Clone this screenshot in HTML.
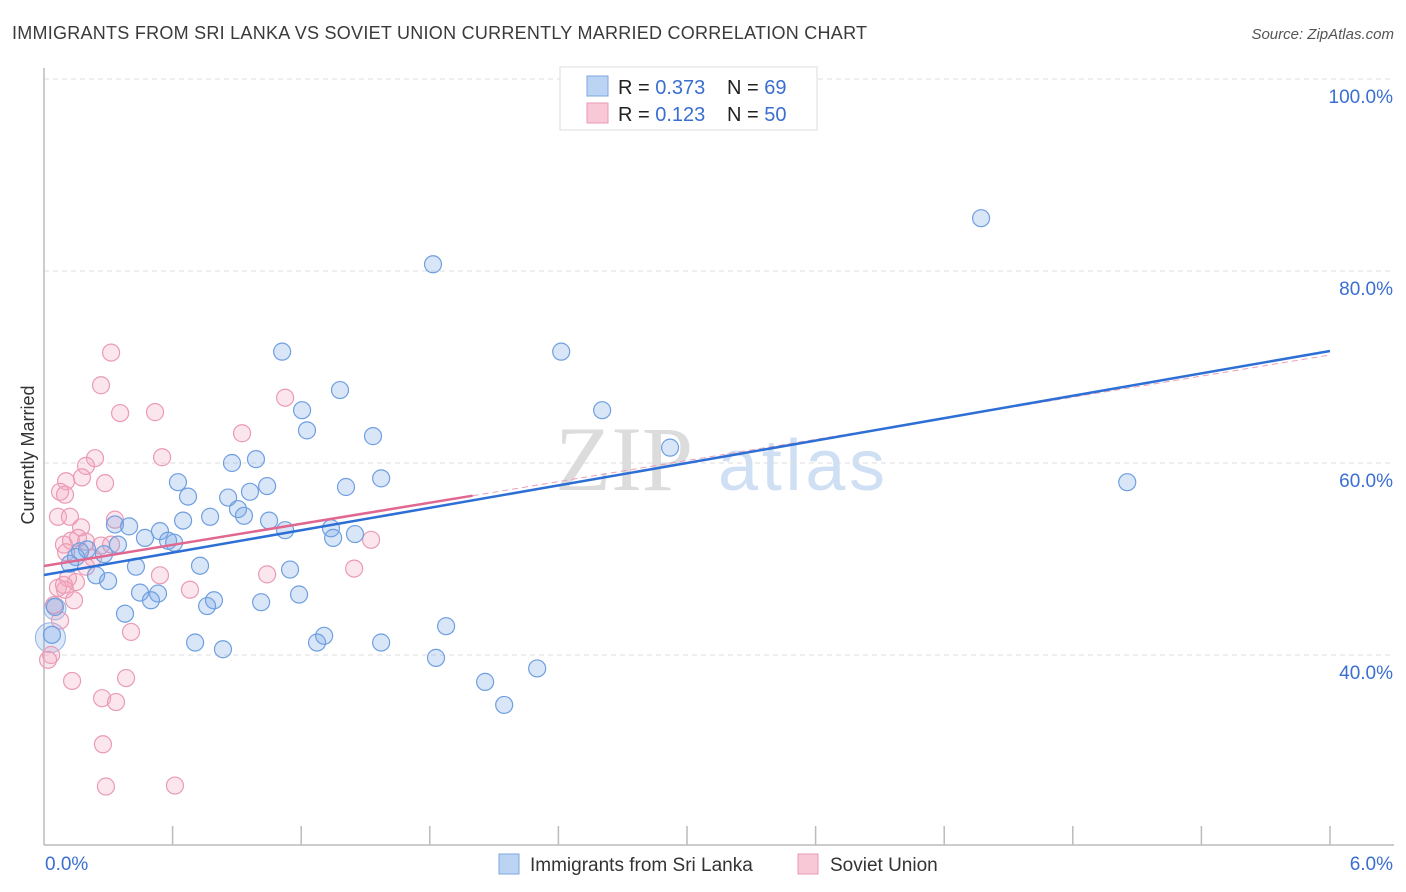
<!DOCTYPE html>
<html><head><meta charset="utf-8"><style>
body{margin:0;background:#fff;font-family:"Liberation Sans",sans-serif;}
#wrap{position:relative;width:1406px;height:892px;overflow:hidden;}
</style></head><body>
<div id="wrap">
<svg id="svg" width="1406" height="892" xmlns="http://www.w3.org/2000/svg">
<text x="12" y="39" font-size="18" fill="#3a3a3a" textLength="855">IMMIGRANTS FROM SRI LANKA VS SOVIET UNION CURRENTLY MARRIED CORRELATION CHART</text>
<text x="1394" y="39" font-size="15" fill="#555" font-style="italic" text-anchor="end">Source: ZipAtlas.com</text>
<text transform="translate(34,455) rotate(-90)" font-size="18" fill="#333" text-anchor="middle">Currently Married</text>
<g>
<text x="555" y="490" font-size="92" font-family="Liberation Serif,serif" fill="#dcdcdc">ZIP</text>
<text x="718" y="490" font-size="72" fill="#d0e0f4" textLength="167">atlas</text>
</g>
<g id="grid"></g><g id="axes"></g><g id="pts"></g><g id="lines"></g>
<g>
<rect x="560" y="67" width="257" height="63" fill="#fff" stroke="#ddd"/>
<rect x="587" y="76" width="21" height="20" fill="#bcd4f4" stroke="#7ea6e0"/>
<rect x="587" y="103" width="21" height="20" fill="#f8c8d6" stroke="#e99ab3"/>
<text x="618" y="94" font-size="20" fill="#222">R = <tspan fill="#3a6fd0">0.373</tspan></text>
<text x="727" y="94" font-size="20" fill="#222">N = <tspan fill="#3a6fd0"> 69</tspan></text>
<text x="618" y="121" font-size="20" fill="#222">R = <tspan fill="#3a6fd0"> 0.123</tspan></text>
<text x="727" y="121" font-size="20" fill="#222">N = <tspan fill="#3a6fd0">50</tspan></text>
</g>
<g>
<rect x="499" y="854" width="20" height="20" fill="#bcd4f4" stroke="#7ea6e0"/>
<text x="530" y="871" font-size="19" fill="#333">Immigrants from Sri Lanka</text>
<rect x="798" y="854" width="20" height="20" fill="#f8c8d6" stroke="#e99ab3"/>
<text x="830" y="871" font-size="19" fill="#333">Soviet Union</text>
</g>
</svg>
</div>
<script>
const blueX=[1.815,4.372,1.111,2.413,1.381,2.604,1.204,1.227,1.535,2.921,5.054,0.989,0.877,0.625,0.672,1.409,1.573,1.041,0.961,0.859,0.905,0.933,0.775,0.649,0.397,0.541,0.331,0.471,0.579,0.607,1.050,1.125,1.339,1.349,1.451,0.345,0.201,0.168,0.280,0.149,0.121,0.429,0.728,1.148,0.243,0.299,0.448,0.532,0.499,0.793,0.761,1.013,1.190,0.378,1.876,1.307,1.274,0.705,0.835,1.573,1.829,2.301,2.058,2.147,0.051,0.037];
const blueY=[80.7,85.5,71.6,71.6,67.6,65.5,65.5,63.4,62.8,61.6,58.0,60.4,60.0,58.0,56.5,57.5,58.4,57.6,57.0,56.4,55.2,54.5,54.4,54.0,53.4,52.9,53.6,52.2,51.9,51.7,54.0,53.0,53.2,52.2,52.6,51.5,51.0,50.8,50.5,50.2,49.5,49.2,49.3,48.9,48.3,47.7,46.5,46.4,45.7,45.7,45.1,45.5,46.3,44.3,43.0,42.0,41.3,41.3,40.6,41.3,39.7,38.6,37.2,34.8,45.0,42.1];
const pinkX=[0.313,0.266,0.355,0.518,0.924,1.125,0.551,0.238,0.196,0.177,0.285,0.103,0.075,0.098,0.065,0.121,0.173,0.331,0.093,0.126,0.159,0.196,0.229,0.266,0.313,0.103,0.149,0.112,0.541,1.041,1.447,1.526,0.681,0.098,0.065,0.140,0.047,0.406,0.075,0.033,0.019,0.131,0.383,0.271,0.336,0.275,0.289,0.611,0.093,0.196];
const pinkY=[71.5,68.1,65.2,65.3,63.1,66.8,60.6,60.5,59.7,58.5,57.9,58.1,57.0,56.7,54.4,54.4,53.3,54.1,51.5,51.9,52.2,51.8,50.1,51.4,51.5,50.7,47.6,48.0,48.3,48.4,49.0,52.0,46.8,46.8,47.0,45.7,45.2,42.4,43.6,40.0,39.5,37.3,37.6,35.5,35.1,30.7,26.3,26.4,47.3,49.2];
const yTicks=[40,60,80,100];
const yTickLabels=["40.0%","60.0%","80.0%","100.0%"];
const xTickLabels=["0.0%","6.0%"];
const blueTrend=[48.33,71.67];
const pinkTrend=[49.27,71.25];
const pinkSolidEnd=2.0;
const bigBlue=[[0.051,44.8,11],[0.03,41.8,15]];

const NS="http://www.w3.org/2000/svg";
const X0=44,X1=1330,Y0=845;
const xs=v=>X0+(X1-X0)*v/6;
const ys=v=>79+(100-v)*9.6;
function mk(t,a,p){const e=document.createElementNS(NS,t);for(const k in a)e.setAttribute(k,a[k]);p.appendChild(e);return e;}
const grid=document.getElementById('grid'),axes=document.getElementById('axes'),pts=document.getElementById('pts'),lines=document.getElementById('lines');
yTicks.forEach((v,i)=>{
 const l=mk('line',{x1:X0,x2:1394,y1:ys(v),y2:ys(v),stroke:'#dcdcdc','stroke-dasharray':'5,4'},grid);
 
 
 const t=mk('text',{x:1393,y:ys(v)+24,'font-size':19,fill:'#3a6fd0','text-anchor':'end'},axes);
 t.textContent=yTickLabels[i];
 
 
});
let a=mk('line',{x1:X0,x2:X0,y1:68,y2:Y0,stroke:'#bbb','stroke-width':1.5},axes);


a=mk('line',{x1:X0,x2:1394,y1:Y0,y2:Y0,stroke:'#bbb','stroke-width':1.5},axes);


for(let i=1;i<=10;i++){
 const x=xs(i*0.6);
 const t=mk('line',{x1:x,x2:x,y1:826,y2:Y0,stroke:'#bbb','stroke-width':1.5},axes);
 
 
}
[[0,'start',45],[6,'end',1393]].forEach((d,i)=>{
 const t=mk('text',{x:d[2],y:870,'font-size':19,fill:'#3a6fd0','text-anchor':d[1]},axes);
 t.textContent=xTickLabels[i];
 
 
});
bigBlue.forEach(b=>{
 const c=mk('circle',{cx:xs(b[0]),cy:ys(b[1]),r:b[2],fill:'rgba(120,165,230,0.25)',stroke:'#8fb3e6','stroke-width':1},pts);
 
 
});
pinkX.forEach((v,i)=>{
 const c=mk('circle',{cx:xs(v),cy:ys(pinkY[i]),r:8.5,fill:'rgba(245,165,190,0.28)',stroke:'#ea9bb4','stroke-width':1.2},pts);
 
 
});
blueX.forEach((v,i)=>{
 const c=mk('circle',{cx:xs(v),cy:ys(blueY[i]),r:8.5,fill:'rgba(120,165,230,0.28)',stroke:'#6f9fe0','stroke-width':1.2},pts);
 
 
});
const pAt=x=>pinkTrend[0]+(pinkTrend[1]-pinkTrend[0])*x/6;
let l=mk('line',{x1:xs(pinkSolidEnd),y1:ys(pAt(pinkSolidEnd)),x2:xs(6),y2:ys(pinkTrend[1]),stroke:'#e9a0b8','stroke-width':1,'stroke-dasharray':'6,4'},lines);


l=mk('line',{x1:xs(0),y1:ys(pinkTrend[0]),x2:xs(pinkSolidEnd),y2:ys(pAt(pinkSolidEnd)),stroke:'#e06890','stroke-width':2.5},lines);


l=mk('line',{x1:xs(0),y1:ys(blueTrend[0]),x2:xs(6),y2:ys(blueTrend[1]),stroke:'#2e6fd6','stroke-width':2.5},lines);


</script>
</body></html>
